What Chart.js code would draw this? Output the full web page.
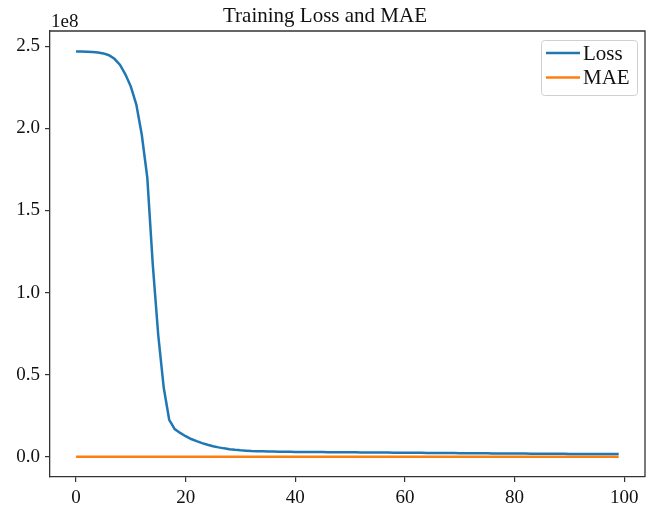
<!DOCTYPE html>
<html>
<head>
<meta charset="utf-8">
<script src="https://cdn.jsdelivr.net/npm/chart.js@4.4.1/dist/chart.umd.min.js"></script>
<style>
  html, body { margin: 0; padding: 0; background: #fff; }
  #wrap { width: 652px; height: 510px; }
</style>
</head>
<body>
<div id="wrap"><canvas id="lossChart" width="652" height="510"></canvas></div>
<script>
// values (loss in raw units, plotted with 1e8 offset)
const epochs = Array.from({ length: 100 }, (_, i) => i);

const lossValues = [
  2.468e8, 2.468e8, 2.467e8, 2.466e8, 2.463e8, 2.457e8, 2.446e8, 2.424e8, 2.388e8, 2.330e8,
  2.255e8, 2.145e8, 1.960e8, 1.700e8, 1.170e8, 0.740e8, 0.420e8, 0.225e8, 0.168e8, 0.145e8,
  1.25e7, 1.08e7, 9.5e6, 8.3e6, 7.3e6, 6.4e6, 5.7e6, 5.1e6, 4.6e6, 4.2e6,
  3.9e6, 3.7e6, 3.5e6, 3.4e6, 3.3e6, 3.2e6, 3.15e6, 3.1e6, 3.05e6, 3.0e6,
  2.95e6, 2.93e6, 2.90e6, 2.87e6, 2.85e6, 2.82e6, 2.80e6, 2.77e6, 2.74e6, 2.72e6,
  2.69e6, 2.66e6, 2.64e6, 2.61e6, 2.59e6, 2.56e6, 2.53e6, 2.51e6, 2.48e6, 2.46e6,
  2.43e6, 2.41e6, 2.38e6, 2.36e6, 2.33e6, 2.31e6, 2.28e6, 2.26e6, 2.23e6, 2.21e6,
  2.18e6, 2.16e6, 2.13e6, 2.11e6, 2.09e6, 2.06e6, 2.04e6, 2.01e6, 1.99e6, 1.97e6,
  1.94e6, 1.92e6, 1.90e6, 1.88e6, 1.85e6, 1.83e6, 1.81e6, 1.79e6, 1.77e6, 1.75e6,
  1.73e6, 1.71e6, 1.69e6, 1.67e6, 1.66e6, 1.64e6, 1.63e6, 1.62e6, 1.61e6, 1.60e6
];

// MAE is tiny next to the loss, sits on the zero line
const maeValues = [
  15700, 15700, 15690, 15680, 15670, 15650, 15620, 15560, 15450, 15260,
  15010, 14640, 13980, 12990, 10780, 8450, 6120, 4270, 3560, 3260,
  3000, 2780, 2620, 2450, 2310, 2170, 2050, 1940, 1840, 1760,
  1700, 1650, 1610, 1590, 1570, 1550, 1540, 1530, 1520, 1510,
  1500, 1495, 1490, 1480, 1475, 1470, 1460, 1455, 1450, 1440,
  1430, 1425, 1420, 1410, 1400, 1395, 1390, 1380, 1375, 1370,
  1360, 1350, 1345, 1340, 1330, 1325, 1320, 1310, 1300, 1295,
  1290, 1280, 1275, 1270, 1260, 1255, 1250, 1240, 1235, 1230,
  1220, 1215, 1210, 1200, 1195, 1190, 1180, 1175, 1170, 1160,
  1155, 1150, 1140, 1135, 1130, 1125, 1120, 1115, 1110, 1100
];

const xTicks = [0, 20, 40, 60, 80, 100];
const yTicks = [0, 0.5e8, 1.0e8, 1.5e8, 2.0e8, 2.5e8];

const FONT = '"Liberation Serif", "Times New Roman", serif';
const AXIS_COLOR = '#333';

// frame, title, offset text and legend box like matplotlib
const mplExtras = {
  id: 'mplExtras',
  afterDraw(chart) {
    const ctx = chart.ctx;
    const a = chart.chartArea;
    ctx.save();

    // top + right spines
    ctx.strokeStyle = AXIS_COLOR;
    ctx.lineWidth = 1.3;
    ctx.beginPath();
    ctx.moveTo(a.left, a.top);
    ctx.lineTo(a.right, a.top);
    ctx.lineTo(a.right, a.bottom);
    ctx.stroke();

    // title
    ctx.fillStyle = '#111';
    ctx.font = '21px ' + FONT;
    ctx.textAlign = 'center';
    ctx.textBaseline = 'alphabetic';
    ctx.fillText('Training Loss and MAE', 325, 22);

    // offset text
    ctx.font = '19px ' + FONT;
    ctx.textAlign = 'left';
    ctx.fillText('1e8', a.left + 1, 27);

    // legend
    const bx = a.right - 104, by = a.top + 9, bw = 96, bh = 55;
    ctx.beginPath();
    ctx.roundRect(bx + 0.5, by + 0.5, bw, bh, 3);
    ctx.fillStyle = 'rgba(255,255,255,0.85)';
    ctx.fill();
    ctx.strokeStyle = '#d0d0d0';
    ctx.lineWidth = 1;
    ctx.stroke();

    ctx.font = '21px ' + FONT;
    ctx.textBaseline = 'middle';
    chart.data.datasets.forEach((ds, i) => {
      const y = by + 13 + i * 24.5;
      ctx.strokeStyle = ds.borderColor;
      ctx.lineWidth = 2.5;
      ctx.beginPath();
      ctx.moveTo(bx + 5, y);
      ctx.lineTo(bx + 39, y);
      ctx.stroke();
      ctx.fillStyle = '#111';
      ctx.fillText(ds.label, bx + 42, y + 1);
    });

    ctx.restore();
  }
};

const ctx = document.getElementById('lossChart').getContext('2d');

new Chart(ctx, {
  type: 'line',
  data: {
    labels: epochs,
    datasets: [
      {
        label: 'Loss',
        data: lossValues,
        borderColor: '#1f77b4',
        borderWidth: 2.5,
        pointRadius: 0,
        tension: 0,
        fill: false
      },
      {
        label: 'MAE',
        data: maeValues,
        borderColor: '#ff7f0e',
        borderWidth: 2.5,
        pointRadius: 0,
        tension: 0,
        fill: false
      }
    ]
  },
  options: {
    responsive: false,
    animation: false,
    layout: { padding: { left: 0, right: 7, top: 31, bottom: 0 } },
    plugins: {
      legend: { display: false },
      title: { display: false },
      tooltip: { enabled: false }
    },
    scales: {
      x: {
        type: 'linear',
        min: -4.75,
        max: 103.8,
        afterBuildTicks: scale => { scale.ticks = xTicks.map(v => ({ value: v })); },
        afterFit: scale => { scale.height = 33; },
        ticks: {
          color: '#111',
          font: { family: FONT, size: 19 },
          padding: 5,
          maxRotation: 0,
          callback: v => String(v)
        },
        grid: { drawOnChartArea: false, drawTicks: true, tickLength: 5, color: AXIS_COLOR, lineWidth: 1.2 },
        border: { display: true, color: AXIS_COLOR, width: 1.3 }
      },
      y: {
        type: 'linear',
        min: -0.1235e8,
        max: 2.5935e8,
        afterBuildTicks: scale => { scale.ticks = yTicks.map(v => ({ value: v })); },
        afterFit: scale => { scale.width = 50; },
        ticks: {
          color: '#111',
          font: { family: FONT, size: 19 },
          padding: 5,
          callback: v => (v / 1e8).toFixed(1)
        },
        grid: { drawOnChartArea: false, drawTicks: true, tickLength: 5, color: AXIS_COLOR, lineWidth: 1.2 },
        border: { display: true, color: AXIS_COLOR, width: 1.3 }
      }
    }
  },
  plugins: [mplExtras]
});
</script>
</body>
</html>
